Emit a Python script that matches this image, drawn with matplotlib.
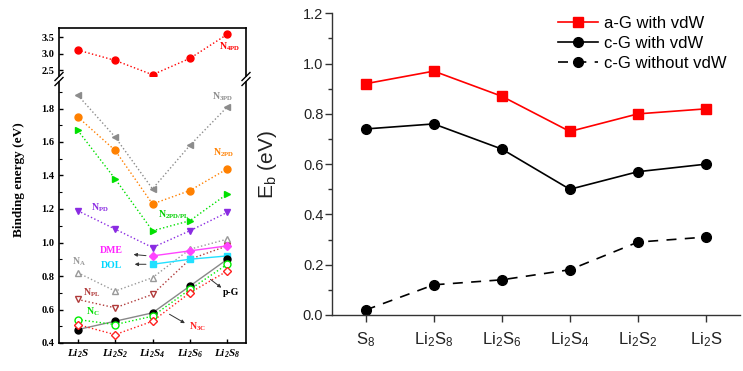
import numpy as np
import matplotlib
matplotlib.use("Agg")
import matplotlib.pyplot as plt

plt.rcParams["mathtext.default"] = "regular"

# ---- left panel data (binding energies, eV) ----
left_species = ["Li$_2$S", "Li$_2$S$_2$", "Li$_2$S$_4$", "Li$_2$S$_6$", "Li$_2$S$_8$"]
n4pd = [3.11, 2.80, 2.37, 2.86, 3.58]
n3pd = [1.88, 1.63, 1.32, 1.58, 1.81]
n2pd = [1.75, 1.55, 1.23, 1.31, 1.44]
n2pd_pl = [1.67, 1.38, 1.07, 1.13, 1.29]
npd = [1.19, 1.08, 0.97, 1.07, 1.18]
dme = [np.nan, np.nan, 0.92, 0.95, 0.98]
dol = [np.nan, np.nan, 0.87, 0.90, 0.92]
na = [0.82, 0.71, 0.79, 0.96, 1.02]
npl = [0.66, 0.61, 0.69, 0.90, 0.98]
nc = [0.54, 0.51, 0.56, 0.72, 0.87]
pg = [0.48, 0.53, 0.58, 0.74, 0.90]
n3c = [0.51, 0.45, 0.53, 0.70, 0.83]

# ---- right panel data ----
right_species = ["S$_8$", "Li$_2$S$_8$", "Li$_2$S$_6$", "Li$_2$S$_4$", "Li$_2$S$_2$", "Li$_2$S"]
ag_vdw = [0.92, 0.97, 0.87, 0.73, 0.80, 0.82]
cg_vdw = [0.74, 0.76, 0.66, 0.50, 0.57, 0.60]
cg_novdw = [0.02, 0.12, 0.14, 0.18, 0.29, 0.31]

fig = plt.figure(figsize=(7.43, 3.71), dpi=100)
W, H = 743, 371

def box(x0, y0, x1, y1):
    return [x0 / W, 1 - y1 / H, (x1 - x0) / W, (y1 - y0) / H]

serif = "Liberation Serif"
sans = "Liberation Sans"

# ===================== left panel (broken axis) =====================
ax_top = fig.add_axes(box(59, 28, 246, 76))
ax_bot = fig.add_axes(box(59, 82, 246, 343))
xl = np.arange(len(left_species))

for ax in (ax_top, ax_bot):
    ax.set_xlim(-0.5, 4.5)
    for s in ax.spines.values():
        s.set_linewidth(1.2)
    ax.tick_params(direction="in", width=1, length=3, labelsize=7.5)
    ax.tick_params(which="minor", direction="in", width=0.8, length=2)
ax_top.spines["bottom"].set_visible(False)
ax_bot.spines["top"].set_visible(False)
ax_top.tick_params(bottom=False, labelbottom=False)

ax_top.set_ylim(3.5 - (76 - 37) / 33.4, 3.77)
ax_top.set_yticks([2.5, 3.0, 3.5])
ax_bot.set_ylim(0.4, 0.4 + (343 - 82) / 167.5)
ax_bot.set_yticks(np.arange(0.4, 1.81, 0.2))
ax_bot.set_yticks(np.arange(0.5, 1.95, 0.2), minor=True)
for ax in (ax_top, ax_bot):
    ax.set_yticklabels([f"{t:.1f}" for t in ax.get_yticks()], fontfamily=serif, fontweight="bold")
ax_bot.set_xticks(xl)
ax_bot.set_xticklabels(left_species, fontfamily=serif, fontweight="bold", fontstyle="italic", fontsize=8)

# break marks "//" on both vertical spines
for xpix in (59, 246):
    for dy in (-2.5, 2.5):
        fig.add_artist(plt.Line2D([(xpix - 4) / W, (xpix + 4) / W],
                                  [1 - (79 + dy + 4) / H, 1 - (79 + dy - 4) / H],
                                  color="k", lw=1))

ms = 5
ax_top.plot(xl, n4pd, ":", color="#ff0000", marker="o", ms=ms, lw=1)
styles = [
    (n3pd, dict(ls=":", color="#8c8c8c", marker="<", ms=ms)),
    (n2pd, dict(ls=":", color="#ff8000", marker="o", ms=ms)),
    (n2pd_pl, dict(ls=":", color="#00e000", marker=">", ms=ms)),
    (npd, dict(ls=":", color="#8a2be2", marker="v", ms=ms)),
    (na, dict(ls=":", color="#999999", marker="^", ms=ms, mfc="white")),
    (npl, dict(ls=":", color="#b03a3a", marker="v", ms=ms, mfc="white")),
    (dme, dict(ls="-", color="#ff44ff", marker="D", ms=4.5)),
    (dol, dict(ls="-", color="#22e0ff", marker="s", ms=4.5)),
    (pg, dict(ls="-", color="#888888", marker="o", ms=ms, mfc="black", mec="black")),
    (nc, dict(ls=":", color="#00ee00", marker="o", ms=ms, mfc="white")),
    (n3c, dict(ls=":", color="#ff2020", marker="D", ms=4.5, mfc="white")),
]
for vals, kw in styles:
    ax_bot.plot(xl, vals, lw=1, **kw)

lbl = dict(fontfamily=serif, fontweight="bold", fontsize=7, ha="center", va="center")
ax_top.text(4.06, 3.2, "N$_{4PD}$", color="#ff0000", **lbl)
ax_bot.text(3.87, 1.87, "N$_{3PD}$", color="#8c8c8c", **lbl)
ax_bot.text(3.9, 1.534, "N$_{2PD}$", color="#ff8000", **lbl)
ax_bot.text(2.58, 1.164, "N$_{2PD/PL}$", color="#00d000", **lbl)
ax_bot.text(0.59, 1.206, "N$_{PD}$", color="#8a2be2", **lbl)
ax_bot.text(0.03, 0.884, "N$_A$", color="#999999", **lbl)
ax_bot.text(0.38, 0.70, "N$_{PL}$", color="#b03a3a", **lbl)
ax_bot.text(0.40, 0.585, "N$_C$", color="#00dd00", **lbl)
ax_bot.text(0.89, 0.95, "DME", color="#ff22ff", **lbl)
ax_bot.text(0.89, 0.86, "DOL", color="#00d8ff", **lbl)
ax_bot.text(4.11, 0.70, "p-G", color="black", **lbl)
ax_bot.text(3.2, 0.495, "N$_{3C}$", color="#ff2020", **lbl)
arr = dict(arrowstyle="-|>", color="#333333", lw=0.7, mutation_scale=5)
ax_bot.annotate("", xy=(1.42, 0.93), xytext=(1.9, 0.92), arrowprops=arr)
ax_bot.annotate("", xy=(1.45, 0.87), xytext=(1.9, 0.87), arrowprops=arr)
ax_bot.annotate("", xy=(3.9, 0.72), xytext=(3.49, 0.79), arrowprops=arr)
ax_bot.annotate("", xy=(2.93, 0.51), xytext=(2.39, 0.58), arrowprops=arr)

fig.text(19 / W, 1 - 180 / H, "Binding energy (eV)", rotation=90, ha="center", va="center",
         fontfamily=serif, fontweight="bold", fontsize=9.5)

# ===================== right panel =====================
ax = fig.add_axes(box(331.7, 13.3, 740, 315))
xr = np.arange(len(right_species))
ax.plot(xr, ag_vdw, "-", color="#ff0000", marker="s", ms=7, lw=1.2, label="a-G with vdW")
ax.plot(xr, cg_vdw, "-", color="black", marker="o", ms=7, lw=1.2, label="c-G with vdW")
ax.plot(xr, cg_novdw, "--", color="black", marker="o", ms=7, lw=1.2, dashes=(6, 5),
        label="c-G without vdW")
ax.set_xlim(-0.5, 5.5)
ax.set_ylim(0, 1.2)
ax.set_yticks(np.arange(0, 1.21, 0.2))
ax.set_yticks(np.arange(0.1, 1.2, 0.2), minor=True)
ax.set_yticklabels([f"{t:.1f}" for t in ax.get_yticks()], fontfamily=sans, fontsize=10.5, color="#222222")
ax.set_xticks(xr)
ax.set_xticklabels(right_species, fontfamily=sans, fontsize=12, color="#222222")
ax.spines["top"].set_visible(False)
ax.spines["right"].set_visible(False)
for s in ("left", "bottom"):
    ax.spines[s].set_color("#333333")
    ax.spines[s].set_linewidth(1.0)
ax.tick_params(direction="out", length=5, width=1, color="#333333", pad=1)
ax.tick_params(which="minor", direction="out", length=3, width=1, color="#333333")
ax.tick_params(axis="x", pad=6)
ax.set_ylabel("E$_b$ (eV)", fontfamily=sans, fontsize=15, color="#222222", labelpad=17)
ax.legend(loc="upper right", bbox_to_anchor=(1.005, 1.04), frameon=False, numpoints=1,
          handlelength=2.4, handletextpad=0.4, labelspacing=0.3,
          prop={"family": sans, "size": 12})

fig.savefig("out.png", dpi=100)
